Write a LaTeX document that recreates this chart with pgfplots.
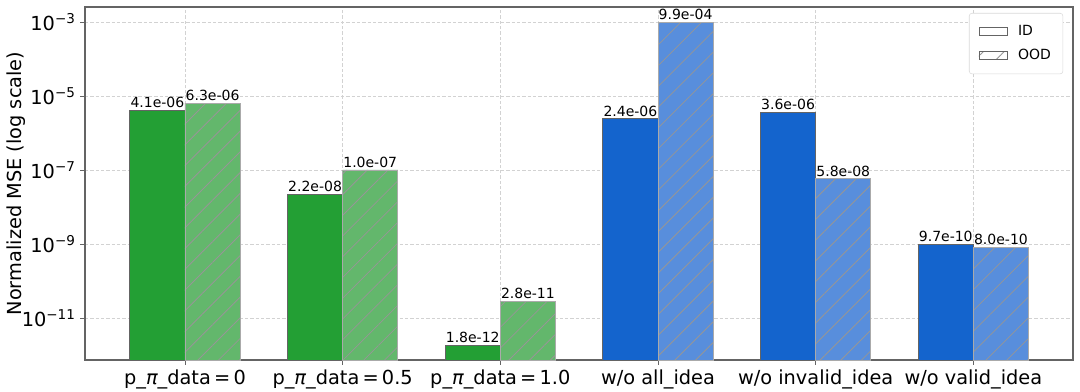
\documentclass[border=0pt]{standalone}
\usepackage{pgfplots}
\pgfplotsset{compat=1.18}
\usepackage{fontspec}
\setmainfont{DejaVu Sans}
\usetikzlibrary{patterns.meta}
\definecolor{idgreen}{RGB}{35,159,52}
\definecolor{oodgreen}{RGB}{99,183,108}
\definecolor{idblue}{RGB}{20,100,205}
\definecolor{oodblue}{RGB}{88,142,220}
\definecolor{edgedark}{RGB}{100,100,100}
\definecolor{edgelight}{RGB}{170,170,170}
\definecolor{hatchc}{RGB}{150,150,150}
\newcommand{\lblfont}{\fontsize{10.5}{12}\selectfont}
\tikzset{hatchbar/.style={postaction={pattern={Lines[angle=45,distance=11pt,line width=0.6pt]}, pattern color=hatchc}}}
\begin{document}
\begin{tikzpicture}
\useasboundingbox (-63.75pt,-24pt) rectangle (746.25pt,270pt);
\begin{axis}[
  at={(0,0)}, anchor=south west,
  scale only axis, width=741pt, height=264.75pt,
  ymode=log, log origin=infty,
  xmin=-0.634, xmax=5.632,
  ymin=7.3e-13, ymax=2.54e-3,
  xtick={0,1,2,3,4,5},
  xticklabels={p\_{\itshape π}\_data\,=\,0, p\_{\itshape π}\_data\,=\,0.5, p\_{\itshape π}\_data\,=\,1.0, w/o all\_idea, w/o invalid\_idea, w/o valid\_idea},
  ytick={1e-11,1e-9,1e-7,1e-5,1e-3},
  yticklabels={10\textsuperscript{−11},10\textsuperscript{−9},10\textsuperscript{−7},10\textsuperscript{−5},10\textsuperscript{−3}},
  minor ytick={},
  ticklabel style={font=\fontsize{14.5}{16}\selectfont},
  tick style={edgedark, line width=0.6pt},
  major tick length=3.5pt,
  tick align=outside,
  xtick pos=bottom, ytick pos=left,
  axis line style={edgedark, line width=0.8pt},
  grid=major,
  major grid style={dashed, dash pattern=on 2.5pt off 1.5pt, gray!35, line width=0.5pt},
  ylabel={Normalized MSE (log scale)},
  every axis y label/.style={at={(axis description cs:0,0.5)}, xshift=-51.75pt, rotate=90, anchor=center, font=\fontsize{14.5}{16}\selectfont},
  legend style={at={(0.99,0.983)}, anchor=north east, draw=gray!30, rounded corners=2pt, font=\fontsize{10.5}{12}\selectfont, inner xsep=7pt, inner ysep=7pt, row sep=5pt},
  legend cell align=left,
  legend image code/.code={\draw[sharp corners, #1] (0pt,-3pt) rectangle (21pt,3pt); \path (27pt,0pt);},
  nodes near coords={\lblfont\pgfplotspointmeta},
  point meta=explicit symbolic,
  every node near coord/.style={black, inner sep=1.5pt, anchor=south},
]
\addlegendimage{draw=edgedark, fill=white, line width=0.6pt}
\addlegendentry{ID}
\addlegendimage{draw=edgedark, fill=white, line width=0.6pt, hatchbar}
\addlegendentry{OOD}
\addplot[ybar, bar width=0.35, bar shift=0, fill=idgreen, draw=edgedark, line width=0.6pt, forget plot]
  coordinates {(-0.175,4.1e-6)[4.1e-06] (0.825,2.2e-8)[2.2e-08] (1.825,1.8e-12)[1.8e-12]};
\addplot[ybar, bar width=0.35, bar shift=0, fill=oodgreen, draw=edgelight, line width=0.6pt, hatchbar, forget plot]
  coordinates {(0.175,6.3e-6)[6.3e-06] (1.175,1.0e-7)[1.0e-07] (2.175,2.8e-11)[2.8e-11]};
\addplot[ybar, bar width=0.35, bar shift=0, fill=idblue, draw=edgedark, line width=0.6pt, forget plot]
  coordinates {(2.825,2.4e-6)[2.4e-06] (3.825,3.6e-6)[3.6e-06] (4.825,9.7e-10)[9.7e-10]};
\addplot[ybar, bar width=0.35, bar shift=0, fill=oodblue, draw=edgelight, line width=0.6pt, hatchbar, forget plot]
  coordinates {(3.175,9.9e-4)[9.9e-04] (4.175,5.8e-8)[5.8e-08] (5.175,8.0e-10)[8.0e-10]};
\end{axis}
\end{tikzpicture}
\end{document}
